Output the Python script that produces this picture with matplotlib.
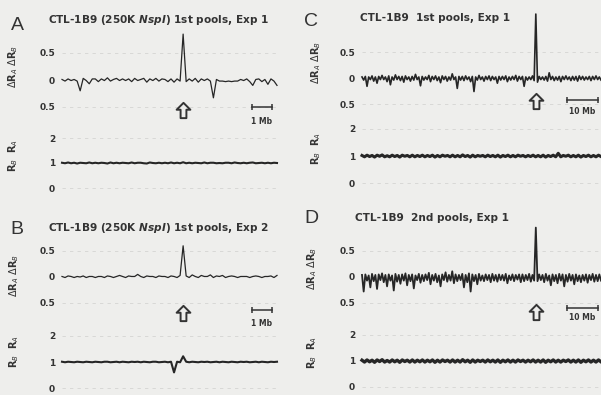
import numpy as np
import matplotlib.pyplot as plt
from matplotlib.path import Path

plt.rcParams['font.family'] = ['DejaVu Sans']

# --- probe traces: delta-ratio (dR_A, dR_B) and ratio (R_A / R_B) ---
span_a = 10.75   # Mb shown in panels A, B
span_c = 77.0    # Mb shown in panels C, D

a_delta = [0.01, -0.02, 0.02, -0.01, 0.01, -0.02, -0.20, 0.03, -0.01, -0.07, 0.02, 0.02,
           -0.03, 0.02, -0.01, 0.04, -0.02, 0.01, 0.03, -0.01, 0.02, -0.01, 0.02, -0.03,
           0.03, -0.01, 0.01, 0.03, -0.04, 0.02, -0.01, 0.03, -0.02, 0.02, 0.01, -0.03,
           0.02, -0.04, 0.02, -0.02, 0.85, -0.03, 0.02, -0.02, 0.03, -0.04, 0.02, -0.01,
           0.02, -0.02, -0.33, 0.01, -0.02, -0.02, -0.03, -0.02, -0.03, -0.02, -0.02, 0.01,
           -0.01, 0.02, -0.03, -0.10, 0.01, 0.02, -0.03, 0.01, -0.08, 0.02, -0.02, -0.10]
a_ratio = [1.01, 0.99, 1.02, 0.99, 1.01, 0.98, 1.01, 1.00, 0.99, 1.02, 0.99, 1.01,
           0.99, 1.01, 1.00, 0.98, 1.02, 0.99, 1.01, 0.99, 1.01, 1.00, 0.99, 1.02,
           0.99, 1.01, 1.01, 0.99, 0.98, 1.02, 1.00, 0.99, 1.01, 0.99, 1.01, 0.99,
           1.02, 0.99, 1.01, 0.99, 1.03, 0.99, 1.01, 0.99, 1.01, 1.00, 0.99, 1.02,
           0.99, 1.01, 1.01, 0.99, 1.00, 0.99, 1.01, 1.01, 0.99, 1.02, 1.00, 0.99,
           1.01, 0.99, 1.01, 1.02, 0.99, 1.00, 1.01, 0.99, 1.01, 0.99, 1.01, 1.00]

b_delta = [0.01, -0.01, 0.02, 0.01, -0.01, 0.01, 0.00, 0.02, -0.01, 0.01, 0.01, -0.01,
           0.01, 0.01, -0.01, 0.02, 0.01, -0.01, 0.01, 0.03, 0.01, -0.01, 0.02, 0.01,
           0.01, 0.05, 0.01, -0.01, 0.02, 0.01, 0.01, -0.01, 0.02, 0.01, 0.01, -0.01,
           0.02, 0.01, -0.01, 0.03, 0.60, 0.02, -0.01, 0.04, 0.01, -0.01, 0.03, 0.01,
           0.01, 0.04, -0.01, 0.02, 0.01, 0.03, -0.01, 0.01, 0.02, 0.01, -0.01, 0.01,
           0.01, 0.01, -0.01, 0.01, 0.02, 0.01, -0.01, 0.01, 0.01, 0.02, -0.01, 0.03]
b_ratio = [1.01, 0.99, 1.01, 1.00, 0.99, 1.01, 1.00, 0.99, 1.01, 1.00, 0.99, 1.01,
           1.00, 0.99, 1.01, 1.01, 0.99, 1.00, 1.01, 0.99, 1.01, 1.00, 0.99, 1.01,
           1.00, 1.01, 0.99, 1.01, 1.00, 0.99, 1.01, 1.01, 0.99, 1.00, 1.01, 0.99,
           1.01, 0.60, 1.01, 0.99, 1.22, 1.01, 0.99, 1.01, 1.00, 0.99, 1.01, 1.00,
           1.01, 0.99, 1.00, 1.01, 0.99, 1.01, 1.00, 0.99, 1.01, 1.00, 0.99, 1.01,
           1.00, 1.01, 0.99, 1.00, 1.01, 0.99, 1.01, 1.00, 0.99, 1.01, 1.00, 1.01]

c_delta = [0.02, -0.04, 0.03, -0.16, 0.02, -0.03, 0.04, -0.06, 0.02, -0.10, 0.03, -0.03,
           0.05, -0.03, 0.02, -0.07, 0.04, -0.13, 0.02, -0.04, 0.06, -0.03, 0.03, -0.05,
           0.03, -0.08, 0.04, -0.03, 0.02, -0.06, 0.03, -0.04, 0.07, -0.03, 0.02, -0.15,
           0.03, -0.04, 0.02, -0.03, 0.05, -0.07, 0.03, -0.03, 0.04, -0.05, 0.02, -0.09,
           0.04, -0.03, 0.03, -0.06, 0.02, -0.04, 0.08, -0.03, 0.02, -0.20, 0.03, -0.04,
           0.03, -0.05, 0.04, -0.03, 0.02, -0.07, 0.03, -0.26, 0.02, -0.04, 0.05, -0.03,
           0.02, -0.06, 0.03, -0.03, 0.04, -0.05, 0.03, -0.03, 0.02, -0.10, 0.03, -0.04,
           0.03, -0.03, 0.04, -0.07, 0.02, -0.04, 0.03, -0.03, 0.05, -0.06, 0.03, -0.03,
           0.03, -0.16, 0.02, -0.04, 0.02, -0.03, 0.04, -0.05, 1.23, -0.08, 0.03, -0.03,
           0.02, -0.04, 0.03, -0.06, 0.10, -0.03, 0.03, -0.05, 0.02, -0.04, 0.03, -0.07,
           0.03, -0.03, 0.04, -0.03, 0.02, -0.05, 0.03, -0.04, 0.03, -0.06, 0.04, -0.03,
           0.03, -0.04, 0.02, -0.03, 0.03, -0.05, 0.03, -0.03, 0.04, -0.03, 0.02, -0.04]
c_ratio = [1.02, 0.97, 1.03, 0.98, 1.02, 0.96, 1.03, 0.99, 1.04, 0.97, 1.01, 0.97,
           1.03, 0.98, 1.02, 0.96, 1.03, 0.99, 1.02, 0.97, 1.03, 0.97, 1.02, 0.98,
           1.03, 0.97, 1.02, 0.98, 1.03, 0.96, 1.02, 0.97, 1.03, 0.99, 1.02, 0.97,
           1.03, 0.97, 1.02, 0.97, 1.04, 0.98, 1.02, 0.96, 1.03, 0.97, 1.02, 0.99,
           1.02, 0.97, 1.03, 0.98, 1.02, 0.97, 1.03, 0.96, 1.02, 0.98, 1.03, 0.97,
           1.02, 0.97, 1.03, 0.99, 1.02, 0.97, 1.02, 0.98, 1.03, 0.97, 1.02, 0.97,
           1.03, 0.96, 1.02, 0.98, 1.03, 0.97, 1.10, 0.97, 1.02, 0.99, 1.03, 0.97,
           1.02, 0.97, 1.03, 0.96, 1.02, 0.98, 1.03, 0.97, 1.02, 0.97, 1.03, 0.98]

d_delta = [0.04, -0.28, 0.05, -0.07, 0.03, -0.20, 0.06, -0.08, 0.04, -0.23, 0.05, -0.06,
           0.07, -0.10, 0.04, -0.18, 0.05, -0.07, 0.03, -0.26, 0.06, -0.09, 0.04, -0.13,
           0.05, -0.07, 0.07, -0.16, 0.04, -0.08, 0.05, -0.22, 0.03, -0.06, 0.06, -0.11,
           0.04, -0.08, 0.05, -0.06, 0.08, -0.14, 0.04, -0.07, 0.06, -0.10, 0.03, -0.18,
           0.05, -0.06, 0.09, -0.09, 0.04, -0.07, 0.11, -0.12, 0.05, -0.08, 0.04, -0.06,
           0.06, -0.20, 0.04, -0.10, 0.07, -0.28, 0.05, -0.08, 0.04, -0.14, 0.06, -0.07,
           0.03, -0.08, 0.05, -0.06, 0.04, -0.10, 0.06, -0.07, 0.04, -0.09, 0.05, -0.06,
           0.04, -0.07, 0.06, -0.12, 0.03, -0.06, 0.05, -0.08, 0.04, -0.05, 0.05, -0.10,
           0.05, -0.08, 0.04, -0.06, 0.06, -0.09, 0.04, -0.07, 0.95, -0.08, 0.05, -0.06,
           0.04, -0.10, 0.06, -0.07, 0.03, -0.16, 0.05, -0.08, 0.04, -0.12, 0.06, -0.07,
           0.05, -0.18, 0.04, -0.09, 0.06, -0.07, 0.04, -0.14, 0.05, -0.08, 0.03, -0.10,
           0.04, -0.07, 0.05, -0.11, 0.04, -0.06, 0.06, -0.09, 0.04, -0.08, 0.05, -0.07]
d_ratio = [1.03, 0.96, 1.04, 0.97, 1.03, 0.95, 1.04, 0.98, 1.05, 0.96, 1.02, 0.96,
           1.04, 0.97, 1.03, 0.95, 1.04, 0.98, 1.03, 0.96, 1.04, 0.96, 1.03, 0.97,
           1.04, 0.96, 1.03, 0.97, 1.04, 0.95, 1.03, 0.96, 1.04, 0.98, 1.03, 0.96,
           1.04, 0.96, 1.03, 0.96, 1.05, 0.97, 1.03, 0.95, 1.04, 0.96, 1.03, 0.98,
           1.03, 0.96, 1.04, 0.97, 1.03, 0.96, 1.04, 0.95, 1.03, 0.97, 1.04, 0.96,
           1.03, 0.96, 1.04, 0.98, 1.03, 0.96, 1.03, 0.97, 1.04, 0.96, 1.03, 0.96,
           1.04, 0.95, 1.03, 0.97, 1.04, 0.96, 1.03, 0.96, 1.03, 0.98, 1.04, 0.96,
           1.03, 0.96, 1.04, 0.95, 1.03, 0.97, 1.04, 0.96, 1.03, 0.96, 1.04, 0.97]

titles = ['CTL-1B9 (250K $\\mathbfit{NspI}$) 1st pools, Exp 1',
          'CTL-1B9 (250K $\\mathbfit{NspI}$) 1st pools, Exp 2',
          'CTL-1B9  1st pools, Exp 1',
          'CTL-1B9  2nd pools, Exp 1']

W, H = 601, 395
BG = '#eeeeec'
INK = '#262626'
TXT = '#333333'
GRID = '#d4d4d2'

# hollow up-arrow used to point at the peak probe
ARROW = Path([(0, 1), (0.9, 0.1), (0.38, 0.1), (0.38, -1), (-0.38, -1),
              (-0.38, 0.1), (-0.9, 0.1), (0, 1)], closed=True)

fig = plt.figure(figsize=(W / 100, H / 100), dpi=100)
fig.patch.set_facecolor(BG)


def px_axes(x0, x1, v_ref, y_ref, unit, lo, hi):
    # axes placed in pixel units (y measured from the top of the figure)
    y_top = y_ref - (hi - v_ref) * unit
    y_bot = y_ref - (lo - v_ref) * unit
    ax = fig.add_axes([x0 / W, 1 - y_bot / H, (x1 - x0) / W, (y_bot - y_top) / H])
    ax.set_ylim(lo, hi)
    ax.patch.set_alpha(0)
    for s in ax.spines.values():
        s.set_visible(False)
    ax.set_xticks([])
    ax.tick_params(length=0, labelsize=6.5, colors=TXT, pad=5)
    return ax


def ftext(x, y, s, **kw):
    fig.text(x / W, 1 - y / H, s, **kw)


def panel(letter, title, delta, ratio, span, bar_mb, bar_label, g):
    x0, x1 = g['x']
    pos_d = np.linspace(0, span, len(delta))
    pos_r = np.linspace(0, span, len(ratio))

    ax = px_axes(x0, x1, 0, g['zero'], g['unit'], -0.6, 1.3)
    ax.set_xlim(0, span)
    for v in (0.5, -0.5):
        ax.axhline(v, color=GRID, lw=0.6, ls=(0, (4, 5)), zorder=0)
    ax.plot(pos_d, delta, color=INK, lw=g['lw'], clip_on=False)
    ax.set_yticks([0.5, 0, -0.5])
    ax.set_yticklabels(['0.5', '0', '0.5'], fontweight='bold')

    peak = pos_d[int(np.argmax(delta))]
    ax.plot([peak], [(g['zero'] - g['arrow']) / g['unit']], marker=ARROW, ms=11,
            mfc=BG, mec=TXT, mew=1.4, clip_on=False)

    # scale bar
    yb = (g['zero'] - g['bar']) / g['unit']
    bx = [span - bar_mb - g['bar_off'], span - g['bar_off']]
    ax.plot(bx, [yb, yb], color=TXT, lw=1.1, marker='|', ms=5, mew=1.1, clip_on=False)
    ax.text(np.mean(bx), (g['zero'] - g['bar_txt']) / g['unit'], bar_label,
            fontsize=5.5, fontweight='bold', color=TXT, ha='center', va='center')

    axr = px_axes(x0, x1, 1, g['one'], g['runit'], -0.1, 2.1)
    axr.set_xlim(0, span)
    for v in (2, 0):
        axr.axhline(v, color=GRID, lw=0.6, ls=(0, (4, 5)), zorder=0)
    axr.plot(pos_r, ratio, color=INK, lw=g['rlw'], clip_on=False)
    axr.set_yticks([2, 1, 0])
    axr.set_yticklabels(['2', '1', '0'], fontweight='bold')

    ftext(g['letter'][0], g['letter'][1], letter, fontsize=14, color=TXT,
          family='Liberation Sans', ha='center', va='center')
    ftext(g['title'][0], g['title'][1], title, fontsize=7.6, fontweight='bold',
          color=TXT, ha='left', va='center')
    ftext(g['lab_x'], g['lab_d'], r'$\Delta$R$_A$ $\Delta$R$_B$', fontsize=7,
          fontweight='bold', color=TXT, rotation=90, ha='center', va='center')
    ftext(g['lab_x'], g['lab_r'], 'R$_B$  R$_A$', fontsize=7,
          fontweight='bold', color=TXT, rotation=90, ha='center', va='center')


geom_a = dict(x=(62, 277), zero=80, unit=54, one=163, runit=25, lw=0.9, rlw=1.5,
              arrow=110, bar=107, bar_txt=121, bar_off=0.25,
              letter=(17, 26), title=(48, 20), lab_x=13, lab_d=66, lab_r=155)
geom_b = dict(x=(62, 277), zero=277, unit=52, one=362, runit=26, lw=0.9, rlw=1.5,
              arrow=313, bar=310, bar_txt=323, bar_off=0.25,
              letter=(17, 230), title=(48, 228), lab_x=14, lab_d=275, lab_r=351)
geom_c = dict(x=(362, 601), zero=78, unit=52, one=156, runit=27, lw=1.2, rlw=2.2,
              arrow=101, bar=100, bar_txt=112, bar_off=1.0,
              letter=(311, 21), title=(360, 18), lab_x=316, lab_d=62, lab_r=148)
geom_d = dict(x=(362, 601), zero=277, unit=52, one=361, runit=26, lw=1.3, rlw=2.4,
              arrow=312, bar=308, bar_txt=318, bar_off=1.0,
              letter=(311, 218), title=(355, 218), lab_x=312, lab_d=268, lab_r=352)

panel('A', titles[0], a_delta, a_ratio, span_a, 1, '1 Mb', geom_a)
panel('B', titles[1], b_delta, b_ratio, span_a, 1, '1 Mb', geom_b)
panel('C', titles[2], c_delta, c_ratio, span_c, 10, '10 Mb', geom_c)
panel('D', titles[3], d_delta, d_ratio, span_c, 10, '10 Mb', geom_d)

fig.savefig('out.png', dpi=100, facecolor=BG)
